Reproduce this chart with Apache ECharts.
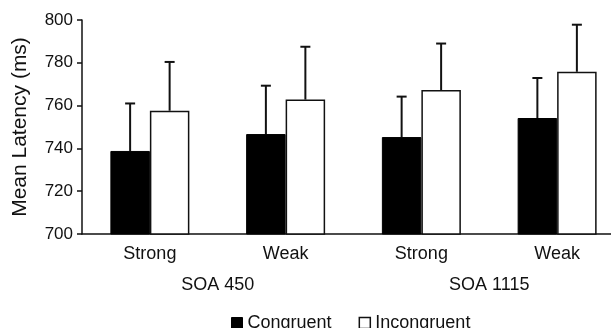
<!DOCTYPE html>
<html>
<head>
<meta charset="utf-8">
<script src="https://cdn.jsdelivr.net/npm/echarts@6/dist/echarts.min.js"></script>
<style>
html,body{margin:0;padding:0;background:#fff;overflow:hidden;width:611px;height:328px;}
#chart{width:625px;height:328px;}
</style>
</head>
<body>
<div id="chart"></div>
<script>
var categories = ['Strong', 'Weak', 'Strong', 'Weak'];
var groups = ['SOA 450', 'SOA 1115'];
var congruent = [738.8, 746.7, 745.3, 754.2];
var congruentErr = [22.2, 22.6, 18.9, 18.7];
var incongruent = [757.6, 762.8, 767.3, 775.8];
var incongruentErr = [22.8, 24.7, 21.7, 22.0];
var yTicks = [700, 720, 740, 760, 780, 800];

var FONT = '"Liberation Sans", Arial, sans-serif';
var BAR_W = 39.5;

function errData(vals, errs, sign) {
  return vals.map(function (v, i) { return [i, v, v + errs[i], sign]; });
}

function renderErr(params, api) {
  var i = api.value(0);
  var base = api.coord([i, api.value(1)]);
  var top = api.coord([i, api.value(2)]);
  var x = base[0] + api.value(3) * BAR_W / 2;
  var cap = 5;
  var st = { stroke: '#111', lineWidth: 2 };
  return {
    type: 'group',
    children: [
      { type: 'line', shape: { x1: x, y1: base[1], x2: x, y2: top[1] }, style: st },
      { type: 'line', shape: { x1: x - cap, y1: top[1], x2: x + cap, y2: top[1] }, style: st }
    ]
  };
}

var chart = echarts.init(document.getElementById('chart'), null, { renderer: 'canvas' });
chart.setOption({
  animation: false,
  backgroundColor: '#fff',
  textStyle: { fontFamily: FONT, color: '#111' },
  grid: { left: 82, top: 20, right: 0, bottom: 94, containLabel: false },
  legend: {
    left: 226, top: 309,
    itemWidth: 11, itemHeight: 11, itemGap: 27,
    textStyle: { fontFamily: FONT, fontSize: 18, color: '#111' },
    data: [
      { name: 'Congruent', icon: 'rect', itemStyle: { color: '#000', borderColor: '#000', borderWidth: 1 } },
      { name: 'Incongruent', icon: 'rect', itemStyle: { color: '#fff', borderColor: '#111', borderWidth: 1.5 } }
    ]
  },
  xAxis: [
    {
      type: 'category', data: categories, position: 'bottom',
      axisLine: { show: true, lineStyle: { color: '#111', width: 1.5 } },
      axisTick: { show: false },
      axisLabel: { fontSize: 18, color: '#111', fontFamily: FONT, margin: 11 }
    },
    {
      type: 'category', data: groups, position: 'bottom', offset: 31,
      axisLine: { show: false }, axisTick: { show: false },
      axisLabel: { fontSize: 18, color: '#111', fontFamily: FONT, margin: 11 }
    }
  ],
  yAxis: {
    type: 'value', min: yTicks[0], max: yTicks[yTicks.length - 1], interval: 20,
    name: 'Mean Latency (ms)', nameLocation: 'middle', nameGap: 51,
    nameTextStyle: { fontSize: 21, color: '#111', fontFamily: FONT },
    axisLine: { show: true, lineStyle: { color: '#111', width: 1.5 } },
    axisTick: { show: true, length: 5, lineStyle: { color: '#111', width: 1.5 } },
    axisLabel: { fontSize: 17, color: '#111', fontFamily: FONT, margin: 9 },
    splitLine: { show: false }
  },
  series: [
    {
      name: 'Congruent', type: 'bar', data: congruent, barWidth: BAR_W, barGap: '0%',
      itemStyle: { color: '#000', borderColor: '#000', borderWidth: 1 }
    },
    {
      name: 'Incongruent', type: 'bar', data: incongruent, barWidth: BAR_W, barGap: '0%',
      itemStyle: { color: '#fff', borderColor: '#111', borderWidth: 1.5 }
    },
    {
      type: 'custom', name: 'errC', data: errData(congruent, congruentErr, -1),
      renderItem: renderErr, z: 5, silent: true,
      encode: { x: 0, y: [1, 2] }
    },
    {
      type: 'custom', name: 'errI', data: errData(incongruent, incongruentErr, 1),
      renderItem: renderErr, z: 5, silent: true,
      encode: { x: 0, y: [1, 2] }
    }
  ]
});
</script>
</body>
</html>
